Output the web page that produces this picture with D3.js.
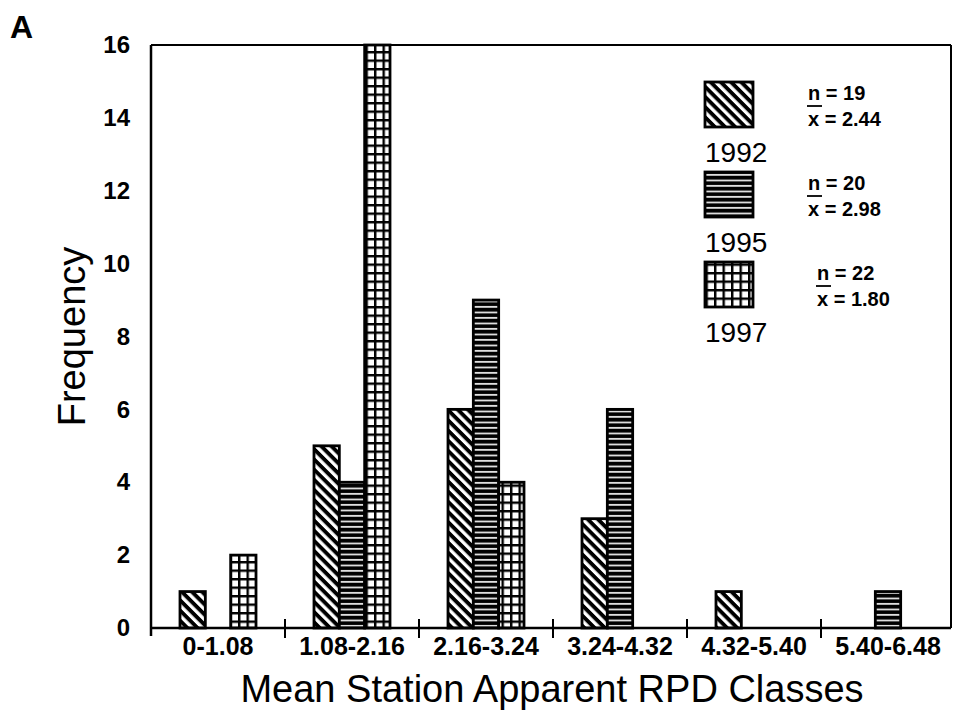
<!DOCTYPE html>
<html lang="en">
  <head>
      <meta charset="utf-8">
      <title>RPD classes</title>
      <script type="text/javascript" src="https://cdn.jsdelivr.net/npm/d3@7"></script>
      <style>
        body { margin: 0; background: #fff; }
        text { font-family: "Liberation Sans", Arial, sans-serif; fill: #000; }
      </style>
  </head>
  <body>
      <script type="text/javascript">

      var classes = ["0-1.08", "1.08-2.16", "2.16-3.24", "3.24-4.32", "4.32-5.40", "5.40-6.48"];
      var years = ["1992", "1995", "1997"];
      var freq1992 = [1, 5, 6, 3, 1, 0];
      var freq1995 = [0, 4, 9, 6, 0, 1];
      var freq1997 = [2, 16, 4, 0, 0, 0];
      var nValues = ["19", "20", "22"];
      var meanValues = ["2.44", "2.98", "1.80"];
      var yTicks = [0, 2, 4, 6, 8, 10, 12, 14, 16];

      var w = 953;
      var h = 711;
      var pLeft = 151, pRight = 951, pTop = 45, pBottom = 628;

      var svg = d3.select("body").append("svg").attr("width", w).attr("height", h);

      // hatch patterns
      var defs = svg.append("defs");
      var diag = defs.append("pattern").attr("id", "p1992").attr("patternUnits", "userSpaceOnUse")
        .attr("width", 7.2).attr("height", 7.2).attr("patternTransform", "rotate(45)");
      diag.append("rect").attr("width", 7.2).attr("height", 7.2).attr("fill", "#fff");
      diag.append("rect").attr("width", 7.2).attr("height", 3.9).attr("fill", "#000");

      var horiz = defs.append("pattern").attr("id", "p1995").attr("patternUnits", "userSpaceOnUse")
        .attr("width", 5.5).attr("height", 5.5);
      horiz.append("rect").attr("width", 5.5).attr("height", 5.5).attr("fill", "#000");
      horiz.append("rect").attr("y", 3.6).attr("width", 5.5).attr("height", 1.6).attr("fill", "#fff");

      var grid = defs.append("pattern").attr("id", "p1997").attr("patternUnits", "userSpaceOnUse")
        .attr("width", 8.5).attr("height", 8.5);
      grid.append("rect").attr("width", 8.5).attr("height", 8.5).attr("fill", "#fff");
      grid.append("rect").attr("width", 2.4).attr("height", 8.5).attr("fill", "#000");
      grid.append("rect").attr("width", 8.5).attr("height", 2.4).attr("fill", "#000");

      var x0 = d3.scaleBand().domain(classes).range([pLeft, 955]);
      var groupW = 76;
      var x1 = d3.scaleBand().domain(years).range([0, groupW]);
      var y = d3.scaleLinear().domain([0, 16]).range([pBottom, pTop]);

      var series = [freq1992, freq1995, freq1997];
      var rows = [];
      classes.forEach(function(c, i) {
        years.forEach(function(yr, j) {
          rows.push({cls: c, year: yr, value: series[j][i]});
        });
      });

      // frame
      svg.append("line").attr("x1", pLeft).attr("x2", pRight).attr("y1", pTop).attr("y2", pTop)
        .attr("stroke", "#000").attr("stroke-width", 2);
      svg.append("line").attr("x1", pRight).attr("x2", pRight).attr("y1", pTop).attr("y2", pBottom)
        .attr("stroke", "#000").attr("stroke-width", 2);

      // bars
      svg.selectAll("rect.bar").data(rows.filter(function(d){ return d.value > 0; })).enter().append("rect")
        .attr("class", "bar")
        .attr("x", function(d){ return x0(d.cls) + (x0.bandwidth() - groupW) / 2 + x1(d.year); })
        .attr("y", function(d){ return y(d.value); })
        .attr("width", x1.bandwidth())
        .attr("height", function(d){ return y(0) - y(d.value); })
        .attr("fill", function(d){ return "url(#p" + d.year + ")"; })
        .attr("stroke", "#000").attr("stroke-width", 2.8);

      // axes lines
      svg.append("line").attr("x1", pLeft).attr("x2", pRight).attr("y1", pBottom).attr("y2", pBottom)
        .attr("stroke", "#000").attr("stroke-width", 2.5);
      svg.append("line").attr("x1", pLeft).attr("x2", pLeft).attr("y1", pTop).attr("y2", pBottom + 8)
        .attr("stroke", "#000").attr("stroke-width", 2.5);

      // class boundary ticks
      svg.selectAll("line.btick").data(classes.slice(1)).enter().append("line")
        .attr("class", "btick")
        .attr("x1", function(d){ return x0(d); }).attr("x2", function(d){ return x0(d); })
        .attr("y1", pBottom - 9).attr("y2", pBottom + 10)
        .attr("stroke", "#000").attr("stroke-width", 2);

      var xAxis = svg.append("g").attr("transform", "translate(0," + pBottom + ")")
        .call(d3.axisBottom(x0).tickSize(0).tickPadding(9));
      xAxis.select(".domain").remove();
      xAxis.selectAll("text").attr("font-size", "25px").attr("font-weight", "bold")
        .attr("font-family", "Liberation Sans, Arial, sans-serif");

      var yAxis = svg.append("g").attr("transform", "translate(" + pLeft + ",0)")
        .call(d3.axisLeft(y).tickValues(yTicks).tickSize(0).tickPadding(21));
      yAxis.select(".domain").remove();
      yAxis.selectAll("text").attr("font-size", "24px").attr("font-weight", "bold")
        .attr("font-family", "Liberation Sans, Arial, sans-serif");

      // titles
      svg.append("text").text("Mean Station Apparent RPD Classes")
        .attr("x", 552).attr("y", 702).attr("text-anchor", "middle").attr("font-size", "38px");
      svg.append("text").text("Frequency")
        .attr("transform", "translate(85," + ((pTop + pBottom) / 2) + ") rotate(-90)")
        .attr("text-anchor", "middle").attr("font-size", "38px");
      svg.append("text").text("A").attr("x", 10).attr("y", 38).attr("font-size", "32px")
        .attr("font-weight", "bold");

      // legend
      var legTop = [82, 172, 262];
      var statX = [808, 808, 817];
      var leg = svg.selectAll("g.leg").data(years).enter().append("g").attr("class", "leg");
      leg.append("rect")
        .attr("x", 705).attr("y", function(d, i){ return legTop[i]; })
        .attr("width", 48).attr("height", 45)
        .attr("fill", function(d){ return "url(#p" + d + ")"; })
        .attr("stroke", "#000").attr("stroke-width", 2.8);
      leg.append("text").text(function(d){ return d; })
        .attr("x", 705).attr("y", function(d, i){ return legTop[i] + 80; })
        .attr("font-size", "28px");
      leg.append("text").text(function(d, i){ return "n = " + nValues[i]; })
        .attr("x", function(d, i){ return statX[i]; })
        .attr("y", function(d, i){ return legTop[i] + 18; })
        .attr("font-size", "20px").attr("font-weight", "bold");
      leg.append("line")
        .attr("x1", function(d, i){ return statX[i] - 1; })
        .attr("x2", function(d, i){ return statX[i] + 14; })
        .attr("y1", function(d, i){ return legTop[i] + 24; })
        .attr("y2", function(d, i){ return legTop[i] + 24; })
        .attr("stroke", "#000").attr("stroke-width", 1.8);
      leg.append("text").text(function(d, i){ return "x = " + meanValues[i]; })
        .attr("x", function(d, i){ return statX[i]; })
        .attr("y", function(d, i){ return legTop[i] + 44; })
        .attr("font-size", "20px").attr("font-weight", "bold");

      </script>
  </body>
</html>
